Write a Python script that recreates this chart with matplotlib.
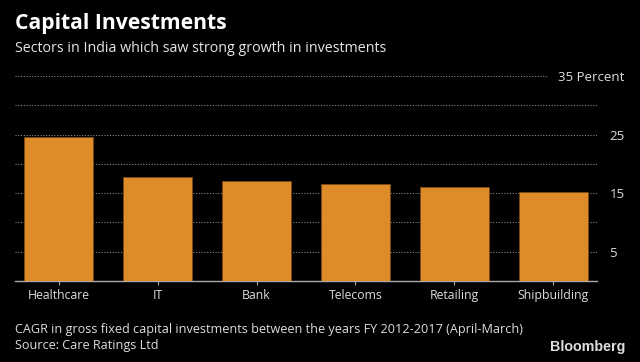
import matplotlib.pyplot as plt
from matplotlib.transforms import offset_copy

sectors = ["Healthcare", "IT", "Bank", "Telecoms", "Retailing", "Shipbuilding"]
cagr = [24.5, 17.7, 17.1, 16.5, 16.0, 15.2]
yticks = [5, 15, 25, 35]
ytick_labels = ["5", "15", "25", "35 Percent"]

plt.rcParams['font.family'] = ['Open Sans', 'DejaVu Sans']

fig = plt.figure(figsize=(6.4, 3.62), dpi=100, facecolor='black')
ax = fig.add_axes([15/640, 1-281/362, 582/640, 205/362], facecolor='black')

x = range(len(sectors))
ax.bar(x, cagr, width=0.69, color='#de8b2a', edgecolor='#7a4a12', linewidth=0.6, zorder=3)

# dotted gridlines every 5, the top one stops short of its label
for g in range(5, 40, 5):
    xmax = 0.915 if g == 35 else 1.0
    ax.axhline(g, xmin=0, xmax=xmax, color='#8a8a8a', linestyle=(0, (1, 1.5)), linewidth=0.8, zorder=1)

ax.set_xlim(-0.44, 5.44)
ax.set_ylim(0, 35)
ax.set_xticks(list(x))
ax.set_xticklabels(sectors, color='#dddddd', fontsize=8.8)
ax.tick_params(axis='x', length=3, color='#aaaaaa', pad=3)

ax.yaxis.tick_right()
ax.set_yticks(yticks)
ax.set_yticklabels(ytick_labels, color='#dddddd', fontsize=9.5, ha='left')
ax.tick_params(axis='y', length=0, pad=9)

for s in ['top', 'left', 'right']:
    ax.spines[s].set_visible(False)
ax.spines['bottom'].set_color('#aaaaaa')
ax.spines['bottom'].set_linewidth(1)

fig.text(15/640, 1-23/362, "Capital Investments", color='white', fontsize=15.2, fontweight='bold', va='center')
fig.text(15/640, 1-48/362, "Sectors in India which saw strong growth in investments", color='#e6e6e6', fontsize=10.3, va='center')
fig.text(15/640, 1-330/362, "CAGR in gross fixed capital investments between the years FY 2012-2017 (April-March)",
         color='#dddddd', fontsize=9.1, va='center')
fig.text(15/640, 1-346/362, "Source: Care Ratings Ltd", color='#dddddd', fontsize=9.1, va='center')
fig.text(625/640, 1-347/362, "Bloomberg", color='#dddddd', fontsize=10.3, fontweight='bold', ha='right', va='center',
         family=['Liberation Sans', 'DejaVu Sans'])

fig.canvas.draw()
# move the top label left so it starts right after the shortened gridline
lbl = ax.get_yticklabels()[-1]
lbl.set_transform(offset_copy(lbl.get_transform(), fig=fig, x=-37, units='points'))

fig.savefig("out.png", dpi=100, facecolor='black')
